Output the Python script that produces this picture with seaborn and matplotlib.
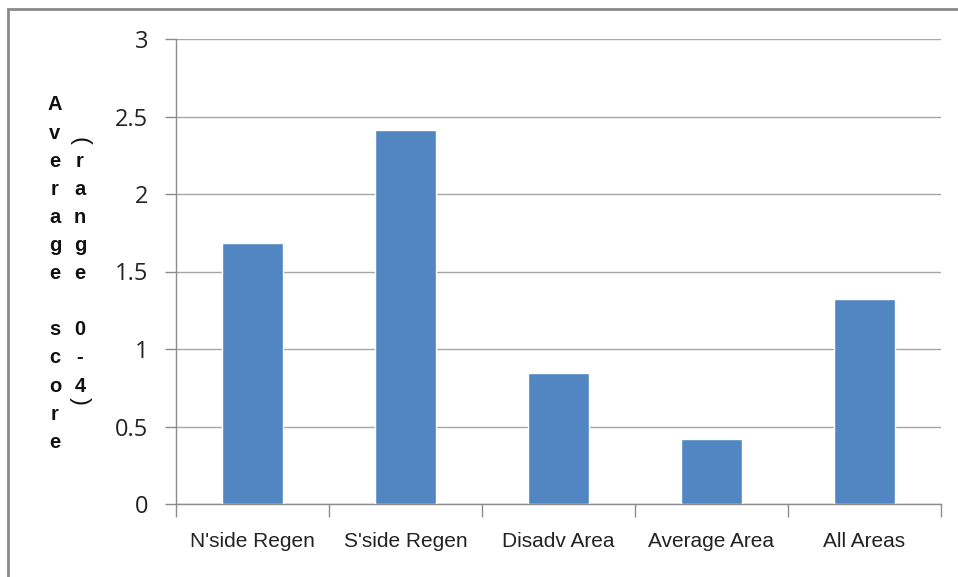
import matplotlib
matplotlib.use("Agg")
import matplotlib.pyplot as plt
from matplotlib.patches import Rectangle
from matplotlib.ticker import FixedLocator, NullFormatter
import seaborn as sns
import pandas as pd

# Average score by area
areas = ["N'side Regen", "S'side Regen", "Disadv Area", "Average Area", "All Areas"]
scores = [1.685, 2.415, 0.845, 0.42, 1.325]
y_ticks = [0, 0.5, 1, 1.5, 2, 2.5, 3]
y_tick_labels = ["0", "0.5", "1", "1.5", "2", "2.5", "3"]
label_col1 = "Average score"
label_col2 = "(range 0-4)"

sns.set_style("white")
plt.rcParams["font.family"] = ["Liberation Sans", "DejaVu Sans"]

W, H = 958, 577
fig = plt.figure(figsize=(W / 100, H / 100), dpi=100)
ax = fig.add_axes([176 / W, 1 - 504 / H, (941 - 176) / W, (504 - 39) / H])

df = pd.DataFrame({"area": areas, "score": scores})
sns.barplot(data=df, x="area", y="score", color="#5286C2", saturation=1,
            width=0.4, ax=ax, zorder=3)

ax.set_xlim(-0.5, len(areas) - 0.5)
ax.set_ylim(0, 3)
ax.set_yticks(y_ticks)
ax.set_yticklabels(y_tick_labels, family=["Open Sans", "DejaVu Sans"], fontsize=17,
                   color="#222222")
ax.yaxis.grid(True, color="#a6a6a6", linewidth=1, zorder=0)
ax.set_axisbelow(True)
ax.tick_params(axis="y", length=8, width=1, color="#8c8c8c", pad=12, left=True)

# category labels centred, tick marks at category boundaries
ax.tick_params(axis="x", which="major", length=0, pad=20, labelsize=15, labelcolor="#222222")
ax.xaxis.set_minor_locator(FixedLocator([i - 0.5 for i in range(len(areas) + 1)]))
ax.xaxis.set_minor_formatter(NullFormatter())
ax.tick_params(axis="x", which="minor", length=9, width=1, color="#8c8c8c", bottom=True)
ax.set_xlabel("")
ax.set_ylabel("")

for side in ["top", "right"]:
    ax.spines[side].set_visible(False)
for side in ["left", "bottom"]:
    ax.spines[side].set_color("#8c8c8c")
    ax.spines[side].set_linewidth(1)

# stacked y-axis title in two columns
line_h = 28.1
top_y = 105
for i, ch in enumerate(label_col1):
    if ch.strip():
        fig.text(55 / W, 1 - (top_y + i * line_h) / H, ch, ha="center", va="center",
                 fontsize=14.5, fontweight="bold", color="#111111")
for i, ch in enumerate(label_col2):
    if not ch.strip():
        continue
    y = top_y + (i + 1) * line_h
    rot, weight, size = 0, "bold", 14.5
    if ch == "(":
        y, rot, weight, size = 141, -90, "normal", 17
    elif ch == ")":
        y, rot, weight, size = 401, -90, "normal", 17
    fig.text(80 / W, 1 - y / H, ch, ha="center", va="center", rotation=rot,
             fontsize=size, fontweight=weight, color="#111111")

# chart area border
fig.add_artist(Rectangle((7.5 / W, -0.1), 1.2, 1 - 8.5 / H + 0.1, transform=fig.transFigure,
                         fill=False, edgecolor="#8a8a8a", linewidth=2))

fig.savefig("out.png", dpi=100)
